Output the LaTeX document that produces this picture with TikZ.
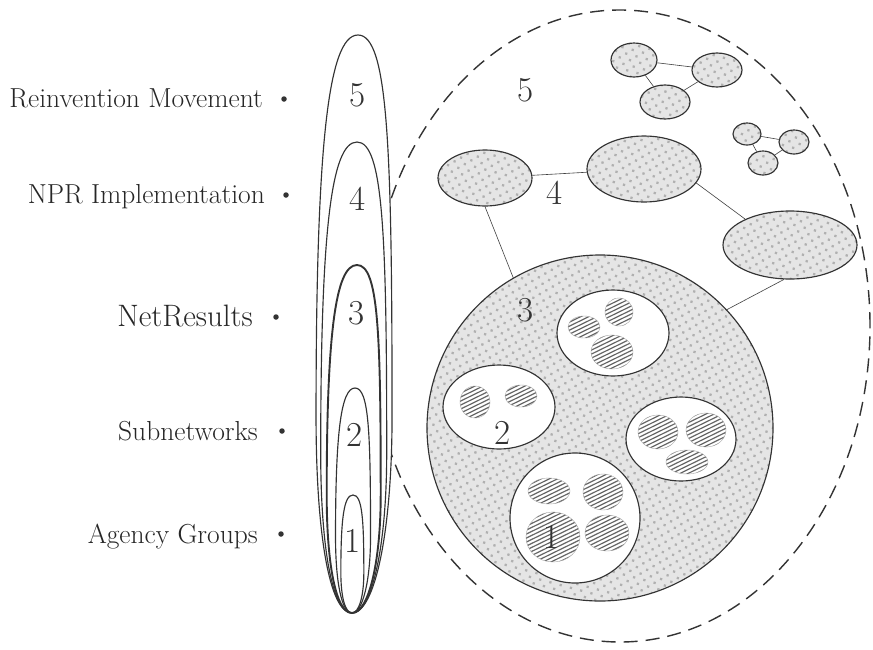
\documentclass[tikz,border=0pt]{standalone}
\usetikzlibrary{shapes.geometric,patterns.meta}
\tikzset{
 ink/.style={draw=black!80, line width=1.15pt},
 dotfill/.style={preaction={fill=gray!20}, pattern={Dots[radius=1.6pt,distance=7.5pt,angle=30]}, pattern color=gray!62},
 netnode/.style={ellipse, ink, dotfill, inner sep=0pt},
 subnode/.style={ellipse, ink, fill=white, inner sep=0pt},
 hatchnode/.style={ellipse, inner sep=0pt, draw=black!35, line width=0.4pt,
   path picture={\begin{scope}[shift={(path picture bounding box.center)}]
     \foreach \k in {-60,-56,...,60} {\draw[black!60, line width=1.2pt] (-45,{\k+22}) -- (45,{\k-22});}
   \end{scope}}},
 link/.style={draw=black!75, line width=0.6pt},
 digit/.style={font=\fontsize{35}{38}\selectfont, text=black!80, inner sep=0pt},
 lab/.style={font=\fontsize{27.5}{31}\selectfont, anchor=base east, inner sep=0pt, text=black!85},
 bulletdot/.style={circle, fill=black!80, minimum size=5.5pt, inner sep=0pt},
 eggline/.style={draw=black!80, line width=1.15pt},
}
% xtop, ytop, xbottom, ybottom, halfwidth, style
\newcommand\eggshape[6]{%
 \pgfmathsetmacro\eH{#4-#2}%
 \pgfmathsetmacro\eM{#2+0.66*\eH}%
 \pgfmathsetmacro\eX{#1+0.66*(#3-#1)}%
 \path[#6] (#1,#2) .. controls ({#1+0.8*#5},#2) and ({\eX+#5},{#2+0.2*\eH}) .. ({\eX+#5},\eM)
   .. controls ({\eX+#5},{\eM+0.2*\eH}) and ({#3+0.6*#5},#4) .. (#3,#4)
   .. controls ({#3-0.6*#5},#4) and ({\eX-#5},{\eM+0.2*\eH}) .. ({\eX-#5},\eM)
   .. controls ({\eX-#5},{#2+0.2*\eH}) and ({#1-0.8*#5},#2) .. cycle;}
\begin{document}
\begin{tikzpicture}[x=1pt,y=-1pt]
\useasboundingbox (0,0) rectangle (873,649);
\fill[white] (0,0) rectangle (873,649);
% outer dashed boundary
\draw[black!80, line width=1.4pt, dash pattern=on 14pt off 8pt] (620,326) ellipse [x radius=250pt, y radius=316pt];
% nested column
\eggshape{358}{35}{352}{613}{38}{eggline, fill=white}
\eggshape{357}{142}{352}{613}{33}{eggline}
\eggshape{357}{265}{352}{613}{27}{eggline, line width=1.9pt}
\eggshape{355}{388}{352}{613}{17.5}{eggline}
\eggshape{353}{495}{352}{613}{11.5}{eggline}
\node[digit] (c5) at (358,95) {5};
\node[digit] (c4) at (358,199) {4};
\node[digit] (c3) at (357,313) {3};
\node[digit] (c2) at (355,435) {2};
\node[digit] (c1) at (353,541) {1};
% left labels
\node[lab] (l5) at (263,107) {Reinvention Movement};
\node[lab] (l4) at (265,203) {NPR Implementation};
\node[lab, font=\fontsize{31}{35}\selectfont] (l3) at (253,326) {NetResults};
\node[lab] (l2) at (258,440) {Subnetworks};
\node[lab] (l1) at (258,543) {Agency Groups};
\node[bulletdot] (b5) at (284,99) {};
\node[bulletdot] (b4) at (286,195) {};
\node[bulletdot] (b3) at (276,317) {};
\node[bulletdot] (b2) at (282,431) {};
\node[bulletdot] (b1) at (281,534) {};
% NetResults circle
\node[netnode, circle, minimum size=346pt] (C3) at (600,428) {};
\node[subnode, minimum width=112pt, minimum height=86pt] (ST) at (613,333) {};
\node[subnode, minimum width=112pt, minimum height=84pt] (S2) at (499,407) {};
\node[subnode, minimum width=110pt, minimum height=84pt] (SR) at (681,439) {};
\node[subnode, circle, minimum size=130pt] (S1) at (575,518) {};
% agency groups
\node[hatchnode, minimum width=28pt, minimum height=28pt] (t1) at (619,312) {};
\node[hatchnode, minimum width=32pt, minimum height=22pt] (t2) at (584,327) {};
\node[hatchnode, minimum width=42pt, minimum height=34pt] (t3) at (612,352) {};
\node[hatchnode, minimum width=30pt, minimum height=32pt] (u1) at (475,402) {};
\node[hatchnode, minimum width=32pt, minimum height=22pt] (u2) at (521,396) {};
\node[hatchnode, minimum width=40pt, minimum height=34pt] (r1) at (658,432) {};
\node[hatchnode, minimum width=40pt, minimum height=34pt] (r2) at (706,430) {};
\node[hatchnode, minimum width=42pt, minimum height=24pt] (r3) at (687,462) {};
\node[hatchnode, minimum width=42pt, minimum height=26pt] (o1) at (549,491) {};
\node[hatchnode, minimum width=40pt, minimum height=36pt] (o2) at (603,492) {};
\node[hatchnode, minimum width=54pt, minimum height=50pt] (o3) at (553,537) {};
\node[hatchnode, minimum width=44pt, minimum height=36pt] (o4) at (607,533) {};
% NPR level networks
\node[netnode, minimum width=94pt, minimum height=56pt] (G) at (485,178) {};
\node[netnode, minimum width=114pt, minimum height=66pt] (H) at (644,169) {};
\node[netnode, minimum width=134pt, minimum height=68pt] (I) at (790,245) {};
\node[netnode, minimum width=46pt, minimum height=34pt] (A) at (634,60) {};
\node[netnode, minimum width=50pt, minimum height=34pt] (B) at (717,70) {};
\node[netnode, minimum width=50pt, minimum height=34pt] (Cn) at (665,102) {};
\node[netnode, minimum width=28pt, minimum height=22pt] (D) at (747,134) {};
\node[netnode, minimum width=30pt, minimum height=24pt] (E) at (794,142) {};
\node[netnode, minimum width=30pt, minimum height=24pt] (F) at (763,163) {};
% links
\draw[link] (G) -- (H);
\draw[link] (H.-15) -- (I.150);
\draw[link] (G.south) -- (C3.120);
\draw[link] (I.-100) -- (C3.43);
\draw[link] (A) -- (B);
\draw[link] (A) -- (Cn);
\draw[link] (B) -- (Cn);
\draw[link] (D) -- (E);
\draw[link] (D) -- (F);
\draw[link] (E) -- (F);
% level digits
\node[digit] (d5) at (526,90) {5};
\node[digit] (d4) at (555,193) {4};
\node[digit] (d3) at (526,310) {3};
\node[digit] (d2) at (503,433) {2};
\node[digit] (d1) at (552,537) {1};
\end{tikzpicture}
\end{document}
